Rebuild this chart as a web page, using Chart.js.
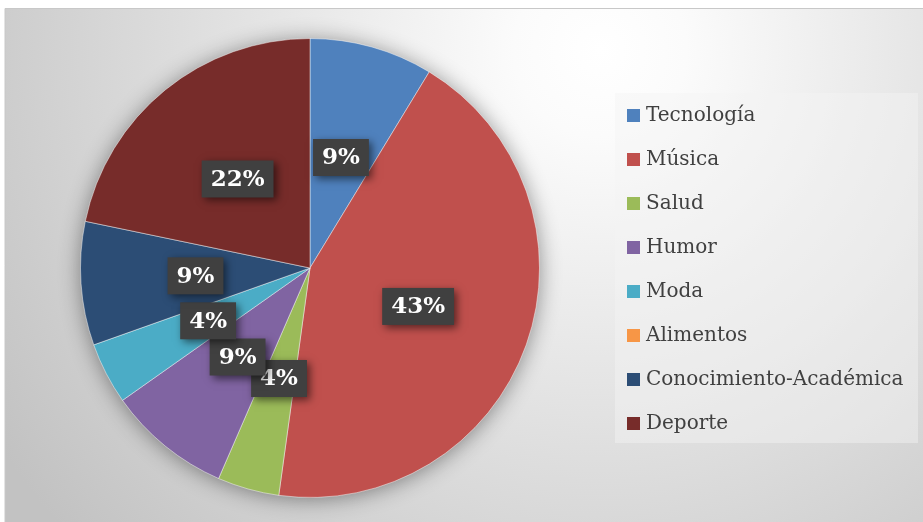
<!DOCTYPE html>
<html>
<head>
<meta charset="utf-8">
<script src="https://cdn.jsdelivr.net/npm/chart.js@4/dist/chart.umd.min.js"></script>
<style>
  html, body { margin: 0; padding: 0; background: #fff; }
  #wrap { position: relative; width: 923px; height: 522px; }
</style>
</head>
<body>
<div id="wrap"><canvas id="pie" width="923" height="522"></canvas></div>
<script>
// categories and counts (percentages derived by the chart)
const categories = ["Tecnología", "Música", "Salud", "Humor", "Moda", "Alimentos", "Conocimiento-Académica", "Deporte"];
const counts = [2, 10, 1, 2, 1, 0, 2, 5];
const sliceColors = ["#4F81BD", "#C0504D", "#9BBB59", "#8064A2", "#4BACC6", "#F79646", "#2C4D75", "#772C2A"];

const SERIF = "'DejaVu Serif', 'Liberation Serif', serif";

const backdrop = {
  id: "backdrop",
  beforeDraw(chart) {
    const ctx = chart.ctx;
    const w = chart.width, h = chart.height;
    ctx.save();
    ctx.fillStyle = "#ffffff";
    ctx.fillRect(0, 0, w, h);
    const g = ctx.createRadialGradient(600, 50, 0, 600, 50, 720);
    g.addColorStop(0, "#ffffff");
    g.addColorStop(0.12, "#fbfbfb");
    g.addColorStop(1, "#c2c2c2");
    ctx.fillStyle = g;
    ctx.fillRect(5, 8, w - 5, h - 8);
    ctx.strokeStyle = "#c8c8c8";
    ctx.lineWidth = 1;
    ctx.beginPath();
    ctx.moveTo(5, h);
    ctx.lineTo(5, 8.5);
    ctx.lineTo(w, 8.5);
    ctx.stroke();
    ctx.restore();
  },
  beforeDatasetsDraw(chart) {
    const arc = chart.getDatasetMeta(0).data[0];
    if (!arc) return;
    const ctx = chart.ctx;
    ctx.save();
    ctx.shadowColor = "rgba(0,0,0,0.45)";
    ctx.shadowBlur = 22;
    ctx.shadowOffsetX = 0;
    ctx.shadowOffsetY = 2;
    ctx.fillStyle = "#888";
    ctx.beginPath();
    ctx.arc(arc.x, arc.y, arc.outerRadius - 1, 0, Math.PI * 2);
    ctx.fill();
    ctx.restore();
  }
};

const sideLegend = {
  id: "sideLegend",
  afterDraw(chart) {
    const ctx = chart.ctx;
    const left = 615, top = 93, right = 918, bottom = 443;
    ctx.save();
    ctx.fillStyle = "rgba(245,245,245,0.45)";
    ctx.fillRect(left, top, right - left, bottom - top);
    ctx.font = "20px " + SERIF;
    ctx.textBaseline = "middle";
    const labels = chart.data.labels;
    const colors = chart.data.datasets[0].backgroundColor;
    labels.forEach((lab, i) => {
      const y = 115 + i * 44;
      ctx.fillStyle = colors[i];
      ctx.fillRect(627, y - 6, 13, 13);
      ctx.fillStyle = "#404040";
      ctx.fillText(lab, 646, y + 1);
    });
    ctx.restore();
  }
};

const sliceLabels = {
  id: "sliceLabels",
  afterDatasetsDraw(chart) {
    const meta = chart.getDatasetMeta(0);
    const data = chart.data.datasets[0].data;
    const total = data.reduce((a, b) => a + b, 0);
    const ctx = chart.ctx;
    ctx.save();
    ctx.font = "bold 23px " + SERIF;
    ctx.textAlign = "center";
    ctx.textBaseline = "middle";
    meta.data.forEach((arc, i) => {
      if (!data[i]) return;
      const pos = arc.tooltipPosition();
      const txt = Math.round((data[i] / total) * 100) + "%";
      const tw = ctx.measureText(txt).width;
      const bw = tw + 18, bh = 37;
      ctx.save();
      ctx.shadowColor = "rgba(0,0,0,0.55)";
      ctx.shadowBlur = 8;
      ctx.shadowOffsetX = 3;
      ctx.shadowOffsetY = 3;
      ctx.fillStyle = "#404040";
      ctx.fillRect(pos.x - bw / 2, pos.y - bh / 2, bw, bh);
      ctx.restore();
      ctx.fillStyle = "#ffffff";
      ctx.fillText(txt, pos.x, pos.y + 1);
    });
    ctx.restore();
  }
};

new Chart(document.getElementById("pie"), {
  type: "pie",
  data: {
    labels: categories,
    datasets: [{
      data: counts,
      backgroundColor: sliceColors,
      borderColor: "rgba(255,255,255,0.45)",
      borderWidth: 1,
    }],
  },
  options: {
    responsive: false,
    animation: false,
    layout: { padding: { left: 80, right: 383, top: 38, bottom: 24 } },
    plugins: {
      legend: { display: false },
      tooltip: { enabled: false },
    },
  },
  plugins: [backdrop, sideLegend, sliceLabels],
});
</script>
</body>
</html>
